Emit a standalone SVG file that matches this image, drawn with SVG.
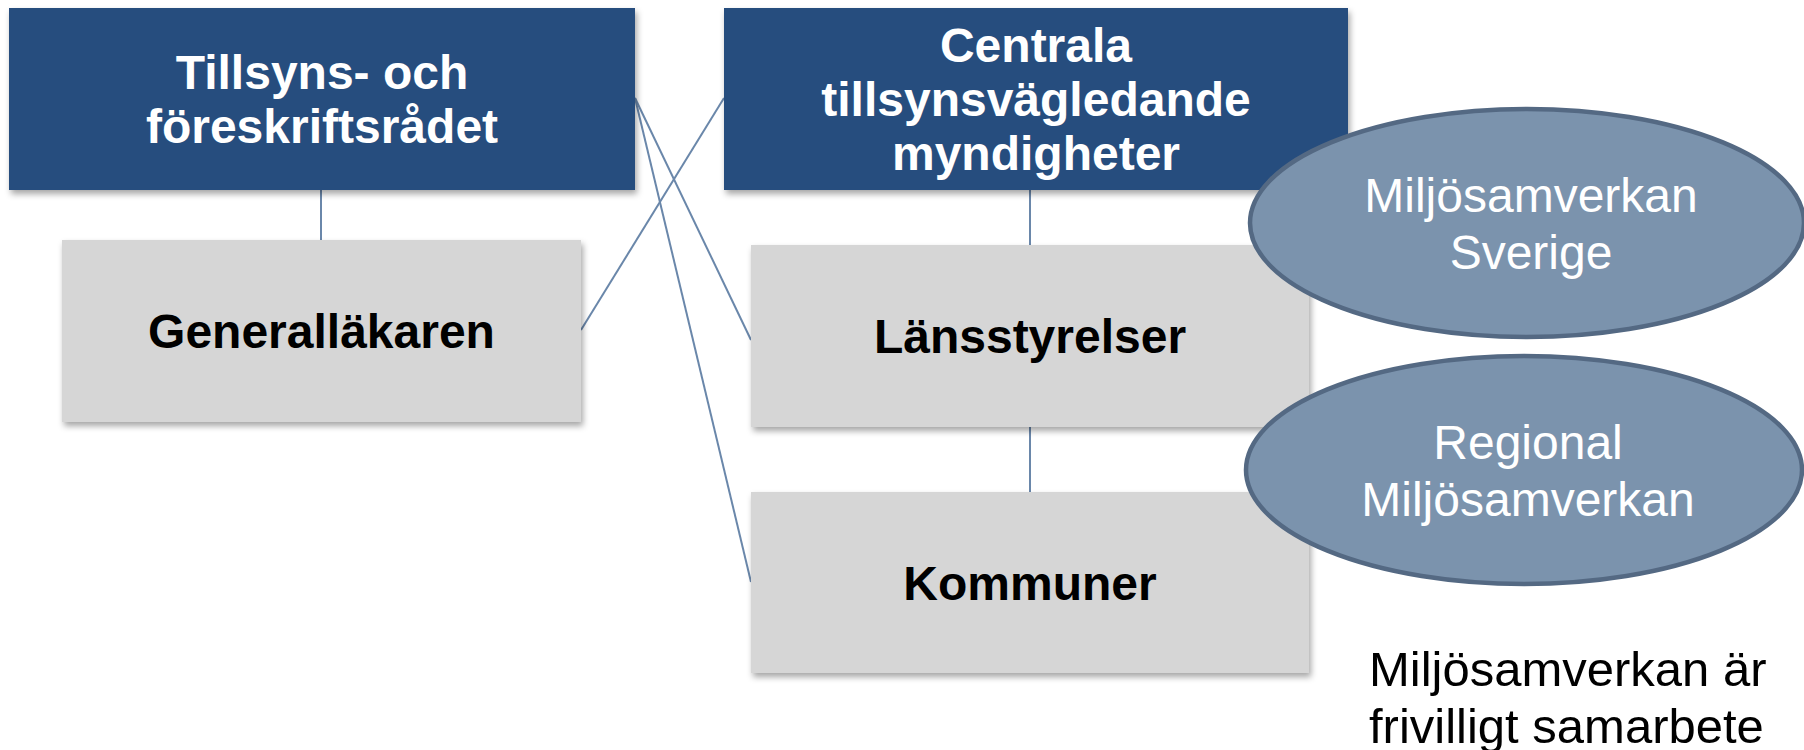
<svg xmlns="http://www.w3.org/2000/svg" width="1804" height="750" viewBox="0 0 1804 750">
  <defs>
    <filter id="shadow" x="-5%" y="-10%" width="115%" height="130%">
      <feDropShadow dx="2" dy="4" stdDeviation="3" flood-color="#000000" flood-opacity="0.35"/>
    </filter>
    <style>
      .dark { fill: #254E7E; filter: url(#shadow); }
      .light { fill: #D6D6D6; filter: url(#shadow); }
      .oval { fill: #7B93AD; stroke: #546983; stroke-width: 4.5; }
      .lbl { font-family: "Liberation Sans", Arial, sans-serif; font-size: 48px; font-weight: bold; text-anchor: middle; }
      .w { fill: #FFFFFF; }
      .b { fill: #000000; }
      .reg { font-family: "Liberation Sans", Arial, sans-serif; font-size: 48px; text-anchor: middle; fill: #FFFFFF; }
      .note { font-family: "Liberation Sans", Arial, sans-serif; font-size: 49px; fill: #000000; }
      .conn line { stroke: #6A87AA; stroke-width: 2; fill: none; }
    </style>
  </defs>
  <rect width="1804" height="750" fill="#FFFFFF"/>

  <g id="connectors" class="conn">
    <line x1="321" y1="190" x2="321" y2="240"/>
    <line x1="1030" y1="190" x2="1030" y2="245"/>
    <line x1="1030" y1="427" x2="1030" y2="492"/>
    <line x1="581" y1="330" x2="724" y2="98"/>
    <line x1="635" y1="98" x2="751" y2="340"/>
    <line x1="635" y1="98" x2="751" y2="582"/>
  </g>

  <g id="node-tillsyns">
    <rect class="dark" x="9" y="8" width="626" height="182"/>
    <text class="lbl w" x="322" y="89">Tillsyns- och</text>
    <text class="lbl w" x="322" y="143">föreskriftsrådet</text>
  </g>

  <g id="node-centrala">
    <rect class="dark" x="724" y="8" width="624" height="182"/>
    <text class="lbl w" x="1036" y="62">Centrala</text>
    <text class="lbl w" x="1036" y="116">tillsynsvägledande</text>
    <text class="lbl w" x="1036" y="170">myndigheter</text>
  </g>

  <g id="node-generallakaren">
    <rect class="light" x="62" y="240" width="519" height="182"/>
    <text class="lbl b" x="321.5" y="348">Generalläkaren</text>
  </g>

  <g id="node-lansstyrelser">
    <rect class="light" x="751" y="245" width="558" height="182"/>
    <text class="lbl b" x="1030" y="353">Länsstyrelser</text>
  </g>

  <g id="node-kommuner">
    <rect class="light" x="751" y="492" width="558" height="181"/>
    <text class="lbl b" x="1030" y="600">Kommuner</text>
  </g>

  <g id="node-miljosamverkan-sverige">
    <ellipse class="oval" cx="1527" cy="223" rx="277" ry="114"/>
    <text class="reg" x="1531" y="212">Miljösamverkan</text>
    <text class="reg" x="1531" y="269">Sverige</text>
  </g>

  <g id="node-regional-miljosamverkan">
    <ellipse class="oval" cx="1524" cy="470" rx="278" ry="114"/>
    <text class="reg" x="1528" y="459">Regional</text>
    <text class="reg" x="1528" y="516">Miljösamverkan</text>
  </g>

  <g id="note">
    <text class="note" x="1369" y="686">Miljösamverkan är</text>
    <text class="note" x="1369" y="743">frivilligt samarbete</text>
  </g>
</svg>
